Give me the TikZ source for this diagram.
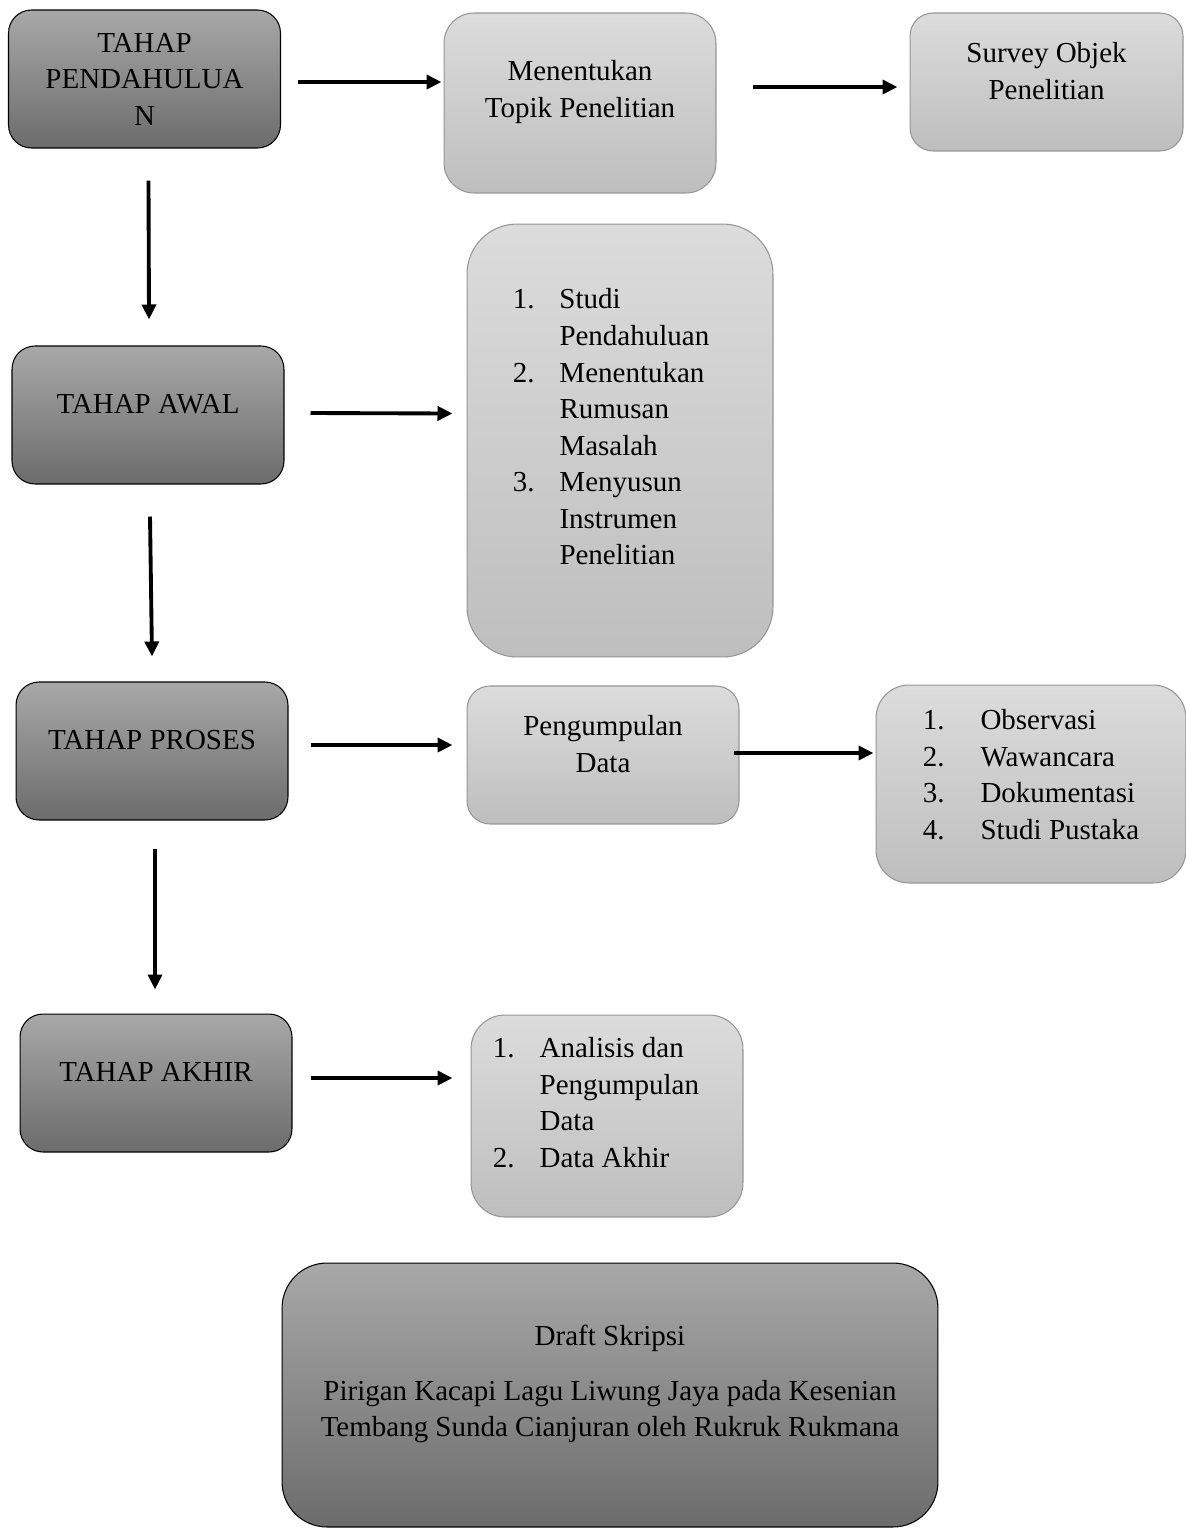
\documentclass[tikz,border=0pt]{standalone}
\usepackage{fontspec}
\setmainfont{Liberation Serif}
\usetikzlibrary{arrows.meta}

\definecolor{darktop}{RGB}{168,168,168}
\definecolor{darkbot}{RGB}{108,108,108}
\definecolor{lighttop}{RGB}{220,220,220}
\definecolor{lightbot}{RGB}{190,190,190}
\definecolor{lightline}{RGB}{150,150,150}

\tikzset{
  darkbox/.style={draw=black, line width=0.6pt, top color=darktop, bottom color=darkbot,
    rounded corners=0.46cm, minimum width=5.44cm, minimum height=2.76cm},
  lightbox/.style={draw=lightline, line width=0.6pt, top color=lighttop, bottom color=lightbot,
    rounded corners=0.46cm, minimum width=5.44cm, minimum height=2.76cm},
  txt/.style={align=center, yshift=0.22cm},
  arr/.style={line width=2.2pt, -{Triangle[length=0.3cm,width=0.28cm]}}
}

\begin{document}
\begin{tikzpicture}[x=0.02cm, y=-0.02cm, font=\fontsize{16.5}{20.8}\selectfont]
\useasboundingbox (0,0) rectangle (1186,1529);

% stages
\node[darkbox, label={[align=center]center:{TAHAP\\PENDAHULUA\\N}}] (pend) at (144.5,79) {};
\node[darkbox, label={[txt]center:{TAHAP AWAL}}] (awal) at (148,415) {};
\node[darkbox, label={[txt]center:{TAHAP PROSES}}] (proses) at (152,751) {};
\node[darkbox, label={[txt]center:{TAHAP AKHIR}}] (akhir) at (156,1083) {};

% steps
\node[lightbox, minimum height=3.6cm, rounded corners=0.6cm,
  label={[txt]center:{Menentukan\\Topik Penelitian}}] (topik) at (580,103) {};
\node[lightbox, minimum width=5.46cm,
  label={[txt]center:{Survey Objek\\Penelitian}}] (survey) at (1046.5,82) {};
\node[lightbox, minimum width=6.12cm, minimum height=8.66cm, rounded corners=1cm,
  label={[txt, xshift=-0.18cm]center:{\begin{tabular}{@{}l@{\hspace{0.5cm}}l@{}}
    1. & Studi\\ & Pendahuluan\\
    2. & Menentukan\\ & Rumusan\\ & Masalah\\
    3. & Menyusun\\ & Instrumen\\ & Penelitian
  \end{tabular}}}] (awallist) at (620,440.5) {};
\node[lightbox, label={[txt]center:{Pengumpulan\\Data}}] (kumpul) at (603,755) {};
\node[lightbox, minimum width=6.2cm, minimum height=3.96cm, rounded corners=0.66cm,
  label={[align=center, yshift=0.14cm]center:{\begin{tabular}{@{}l@{\hspace{0.72cm}}l@{}}
    1. & Observasi\\ 2. & Wawancara\\ 3. & Dokumentasi\\ 4. & Studi Pustaka
  \end{tabular}}}] (teknik) at (1031,784) {};
\node[lightbox, minimum height=4.04cm, rounded corners=0.68cm,
  label={[txt, xshift=-0.22cm]center:{\begin{tabular}{@{}l@{\hspace{0.5cm}}l@{}}
    1. & Analisis dan\\ & Pengumpulan\\ & Data\\
    2. & Data Akhir
  \end{tabular}}}] (akhirlist) at (607,1116) {};

% result
\node[darkbox, minimum width=13.12cm, minimum height=5.28cm, rounded corners=0.9cm,
  label={[txt]center:{Draft Skripsi\\[0.36cm]Pirigan Kacapi Lagu Liwung Jaya pada Kesenian\\Tembang Sunda Cianjuran oleh Rukruk Rukmana}}] (draft) at (610,1395) {};

% arrows
\draw[arr] ([shift={(17,3)}]pend.east) -- ([shift={(-2,-21)}]topik.west);
\draw[arr] ([shift={(36,-16)}]topik.east) -- ([shift={(-12,5)}]survey.west);
\draw[arr] ([shift={(4,32)}]pend.south) -- ([shift={(1,-26)}]awal.north);
\draw[arr] ([shift={(26,-2)}]awal.east) -- ([shift={(-14,-27)}]awallist.west);
\draw[arr] ([shift={(2,32)}]awal.south) -- ([shift={(0,-25)}]proses.north);
\draw[arr] ([shift={(22,-6)}]proses.east) -- ([shift={(-14,-10)}]kumpul.west);
\draw[arr] ([shift={(-6,-2)}]kumpul.east) -- ([shift={(-2,-31)}]teknik.west);
\draw[arr] ([shift={(3,28)}]proses.south) -- ([shift={(-1,-24)}]akhir.north);
\draw[arr] ([shift={(18,-5)}]akhir.east) -- ([shift={(-18,-38)}]akhirlist.west);
\end{tikzpicture}
\end{document}
